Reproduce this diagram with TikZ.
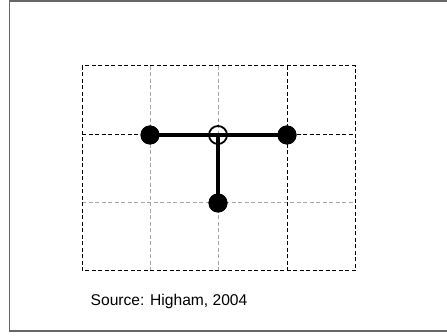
\documentclass[tikz,border=0pt]{standalone}
\usepackage{fontspec}
\setmainfont{Liberation Sans}
\begin{document}
\begin{tikzpicture}[x=1pt,y=-1pt,
  frameline/.style={draw=black!60, line width=1.5pt},
  gridblack/.style={draw=black, line width=1pt, dash pattern=on 4pt off 2.5pt},
  gridgray/.style={draw=black!35, line width=1pt, dash pattern=on 4pt off 2.5pt},
  bond/.style={draw=black, line width=3.2pt},
  fulldot/.style={circle, fill=black, minimum size=19pt, inner sep=0pt},
  opendot/.style={circle, draw=black, line width=1.8pt, minimum size=18pt, inner sep=0pt},
  caption/.style={font=\fontsize{15.6}{18}\selectfont, anchor=base west, inner sep=0pt}
]
\useasboundingbox (0,0) rectangle (447,336);
% outer frame
\draw[frameline] (447,1) -- (9.5,1) -- (9.5,331) -- (447,331);
% grid interior gray lines
\draw[gridgray] (150,66) -- (150,271);
\draw[gridgray] (218,66) -- (218,271);
\draw[gridgray] (82,203) -- (355,203);
% black dashed lines
\draw[gridblack] (287,66) -- (287,271);
\draw[gridblack] (82,135) -- (355,135);
\draw[gridblack] (82,66) rectangle (355,271);
% nodes
\node[fulldot] (a) at (150,135) {};
\node[fulldot] (b) at (287,135) {};
\node[fulldot] (c) at (218,203) {};
\coordinate (o) at (218,135);
\draw[bond] (a.center) -- (b.center);
\draw[bond] (o) -- (c.center);
\node[fulldot] at (a) {};
\node[fulldot] at (b) {};
\node[fulldot] at (c) {};
\node[opendot] (oc) at (o) {};
\node[caption] (src) at (90.5,305.5) {Source: Higham, 2004};
\end{tikzpicture}
\end{document}
